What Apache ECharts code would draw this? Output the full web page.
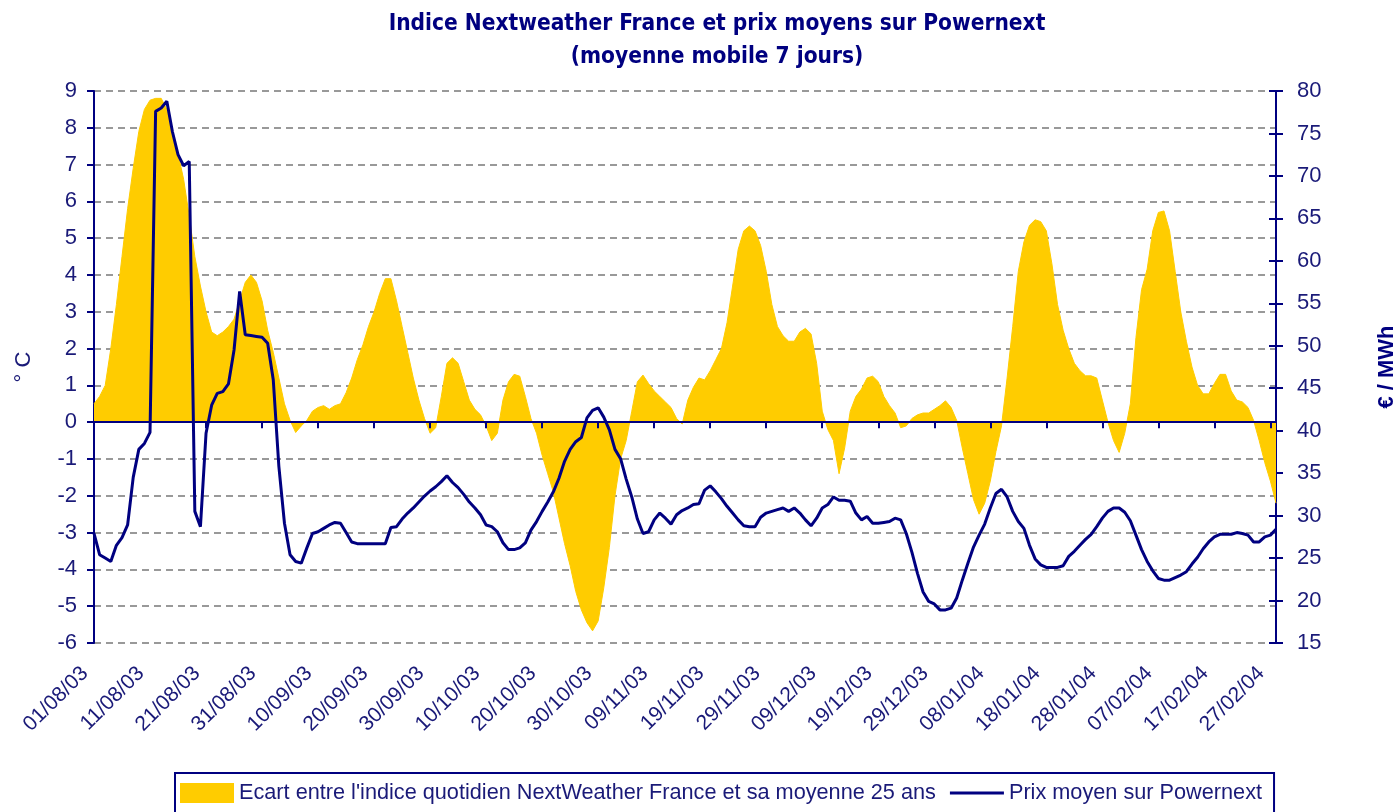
<!DOCTYPE html>
<html>
<head>
<meta charset="utf-8">
<script src="https://cdn.jsdelivr.net/npm/echarts@6/dist/echarts.min.js"></script>
<style>
html,body{margin:0;padding:0;background:#fff}
#main{width:1397px;height:812px}
</style>
</head>
<body>
<div id="main"></div>
<script>
// moyennes mobiles 7 jours, du 01/08/03 au 28/02/04 (une valeur par jour)
var startDay = [2003, 7, 1];
var nbDays = 212;

// écart de l'indice NextWeather France à sa moyenne 25 ans (°C)
var ecart = [
	0.5,0.7,1.0,2.0,3.2,4.5,5.8,6.9,7.9,8.5,
	8.75,8.8,8.8,8.5,7.9,7.3,6.6,5.6,4.5,3.7,
	3.0,2.45,2.35,2.45,2.6,2.8,3.3,3.8,4.0,3.8,
	3.3,2.5,1.9,1.2,0.5,0.05,-0.28,-0.1,0.05,0.3,
	0.4,0.45,0.35,0.45,0.5,0.8,1.2,1.7,2.1,2.6,
	3.0,3.5,3.9,3.9,3.3,2.6,1.9,1.2,0.6,0.1,
	-0.3,-0.15,0.7,1.6,1.75,1.6,1.1,0.6,0.35,0.2,
	-0.1,-0.5,-0.3,0.6,1.1,1.3,1.25,0.7,0.1,-0.3,
	-0.9,-1.4,-1.9,-2.6,-3.3,-3.9,-4.6,-5.1,-5.45,-5.67,
	-5.4,-4.5,-3.4,-2.0,-1.0,-0.5,0.3,1.1,1.28,1.05,
	0.85,0.7,0.55,0.4,0.1,-0.05,0.6,0.95,1.2,1.15,
	1.4,1.7,2.0,2.7,3.7,4.7,5.2,5.33,5.2,4.8,
	4.1,3.2,2.6,2.35,2.2,2.2,2.45,2.55,2.4,1.6,
	0.3,-0.2,-0.5,-1.4,-0.7,0.3,0.7,0.9,1.2,1.25,
	1.1,0.7,0.45,0.25,-0.15,-0.1,0.1,0.2,0.25,0.25,
	0.35,0.45,0.58,0.4,0.05,-0.7,-1.4,-2.1,-2.5,-2.2,
	-1.6,-0.8,-0.1,1.2,2.6,4.1,4.9,5.35,5.5,5.45,
	5.2,4.3,3.2,2.5,2.0,1.6,1.4,1.26,1.26,1.2,
	0.6,0.0,-0.5,-0.82,-0.3,0.5,2.3,3.6,4.16,5.2,
	5.7,5.74,5.2,4.1,3.0,2.2,1.5,1.0,0.77,0.77,
	1.05,1.3,1.3,0.85,0.6,0.55,0.4,0.05,-0.5,-1.1,
	-1.6,-2.2
];

// prix moyen sur Powernext (€/MWh)
var prix = [
	27.9,25.4,25.0,24.6,26.5,27.4,28.9,34.5,37.8,38.5,
	39.8,77.6,78.0,78.8,75.2,72.5,71.2,71.7,30.5,28.7,
	39.7,43.0,44.4,44.6,45.5,49.5,56.4,51.3,51.2,51.1,
	51.0,50.3,46.0,35.8,29.1,25.4,24.6,24.4,26.2,27.9,
	28.1,28.5,28.9,29.2,29.1,28.0,26.9,26.7,26.7,26.7,
	26.7,26.7,26.7,28.6,28.7,29.6,30.3,30.9,31.6,32.3,
	32.9,33.4,34.0,34.7,33.9,33.3,32.5,31.6,30.9,30.1,
	28.9,28.7,28.1,26.8,26.0,26.0,26.2,26.8,28.3,29.3,
	30.5,31.6,32.8,34.4,36.4,37.8,38.7,39.2,41.5,42.4,
	42.7,41.6,40.1,37.8,36.7,34.3,32.2,29.6,27.9,28.1,
	29.5,30.3,29.7,29.0,30.1,30.6,30.9,31.3,31.4,33.0,
	33.5,32.8,32.0,31.1,30.3,29.5,28.8,28.7,28.7,29.8,
	30.3,30.5,30.7,30.9,30.5,30.9,30.3,29.5,28.8,29.7,
	30.9,31.3,32.2,31.8,31.8,31.7,30.3,29.5,29.9,29.1,
	29.1,29.2,29.3,29.7,29.5,27.9,25.7,23.2,21.0,19.9,
	19.6,18.9,18.9,19.1,20.3,22.4,24.4,26.3,27.7,29.0,
	30.9,32.6,33.1,32.2,30.5,29.3,28.5,26.5,24.9,24.2,
	23.9,23.9,23.9,24.1,25.2,25.8,26.5,27.2,27.8,28.7,
	29.7,30.5,30.9,30.9,30.4,29.4,27.7,26.0,24.6,23.5,
	22.6,22.4,22.4,22.7,23.0,23.4,24.3,25.1,26.1,26.9,
	27.5,27.8,27.8,27.8,28.0,27.9,27.7,26.9,26.9,27.5,
	27.7,28.4
];

var ecartName = "Ecart entre l'indice quotidien NextWeather France et sa moyenne 25 ans";
var prixName = "Prix moyen sur Powernext";

function pad(n){ return (n < 10 ? '0' : '') + n; }

var dates = new Array();
for(var i=0;i<nbDays;i++){
	var d = new Date(startDay[0], startDay[1], startDay[2] + i);
	dates.push(pad(d.getDate()) + '/' + pad(d.getMonth()+1) + '/' + pad(d.getFullYear() % 100));
}

var navy = '#000080';
var txt = '#1a1a78';
var font = "'Liberation Sans', Arial, sans-serif";

var chart = echarts.init(document.getElementById('main'));

option = {
	animation: false,
	title: {
		text: 'Indice Nextweather France et prix moyens sur Powernext\n(moyenne mobile 7 jours)',
		left: 712,
		top: 3,
		textAlign: 'center',
		textStyle: {
			fontFamily: "'Liberation Sans Narrow', 'DejaVu Sans Condensed', sans-serif",
			fontWeight: 'bold',
			fontSize: 22.5,
			lineHeight: 33,
			color: navy
		}
	},
	legend: {
		data: [
			{name: ecartName, icon: 'rect'},
			{name: prixName, icon: 'path://M0,0L50,0L50,3L0,3Z'}   // simple trait, sans symbole
		],
		left: 175,
		top: 773,
		itemWidth: 54,
		itemHeight: 20,
		itemGap: 14,
		borderColor: navy,
		borderWidth: 2,
		padding: [9, 12, 14, 5],
		textStyle: {fontFamily: font, fontSize: 21.7, color: txt}
	},
	grid: {
		left: 94,
		right: 121,
		top: 91,
		bottom: 169,
		containLabel: false,
		outerBoundsMode: 'none'
	},
	xAxis: [
		{
			type: 'category',
			data: dates,
			boundaryGap: false,
			z: 3,
			axisLine: {onZero: true, onZeroAxisIndex: 0, lineStyle: {color: navy, width: 2}},
			axisTick: {interval: 9, length: 6, lineStyle: {color: navy, width: 2}},
			axisLabel: {show: false},
			splitLine: {show: false}
		},
		{
			type: 'category',
			data: dates,
			boundaryGap: false,
			position: 'bottom',
			axisLine: {show: false, onZero: false},
			axisTick: {show: false},
			axisLabel: {interval: 9, rotate: 45, margin: 18, padding: [0, 13, 0, 0], fontFamily: font, fontSize: 21, color: txt},
			splitLine: {show: false}
		}
	],
	yAxis: [
		{
			type: 'value',
			min: -6,
			max: 9,
			interval: 1,
			position: 'left',
			name: '° C',
			nameLocation: 'middle',
			nameRotate: 90,
			nameGap: 59,
			nameTextStyle: {fontFamily: font, fontSize: 22, color: txt},
			axisLine: {show: true, lineStyle: {color: navy, width: 2}},
			axisTick: {show: true, length: 7, lineStyle: {color: navy, width: 2}},
			axisLabel: {margin: 17, fontFamily: font, fontSize: 22, color: txt},
			splitLine: {show: true, lineStyle: {color: '#999999', width: 2, type: [7, 5]}}
		},
		{
			type: 'value',
			min: 15,
			max: 80,
			interval: 5,
			position: 'right',
			name: '€ / MWh',
			nameLocation: 'middle',
			nameRotate: 90,
			nameGap: 100,
			nameTextStyle: {fontFamily: font, fontSize: 22, fontWeight: 'bold', color: navy},
			axisLine: {show: true, lineStyle: {color: navy, width: 2}},
			axisTick: {show: true, length: 7, lineStyle: {color: navy, width: 2}},
			axisLabel: {margin: 21, fontFamily: font, fontSize: 22, color: txt},
			splitLine: {show: false}
		},
		{
			// petits traits intérieurs de l'axe de droite
			type: 'value',
			min: 15,
			max: 80,
			interval: 5,
			position: 'right',
			axisLine: {show: false},
			axisTick: {show: true, inside: true, length: 7, lineStyle: {color: navy, width: 2}},
			axisLabel: {show: false},
			splitLine: {show: false}
		}
	],
	series: [
		{
			name: ecartName,
			type: 'line',
			xAxisIndex: 0,
			yAxisIndex: 0,
			data: ecart,
			symbol: 'none',
			itemStyle: {color: '#FFCC00'},
			lineStyle: {color: '#FFCC00', width: 1},
			areaStyle: {color: '#FFCC00', opacity: 1},
			z: 2
		},
		{
			name: prixName,
			type: 'line',
			xAxisIndex: 0,
			yAxisIndex: 1,
			data: prix,
			symbol: 'none',
			itemStyle: {color: navy},
			lineStyle: {color: navy, width: 3},
			z: 4
		}
	]
};

chart.setOption(option);
</script>
</body>
</html>
